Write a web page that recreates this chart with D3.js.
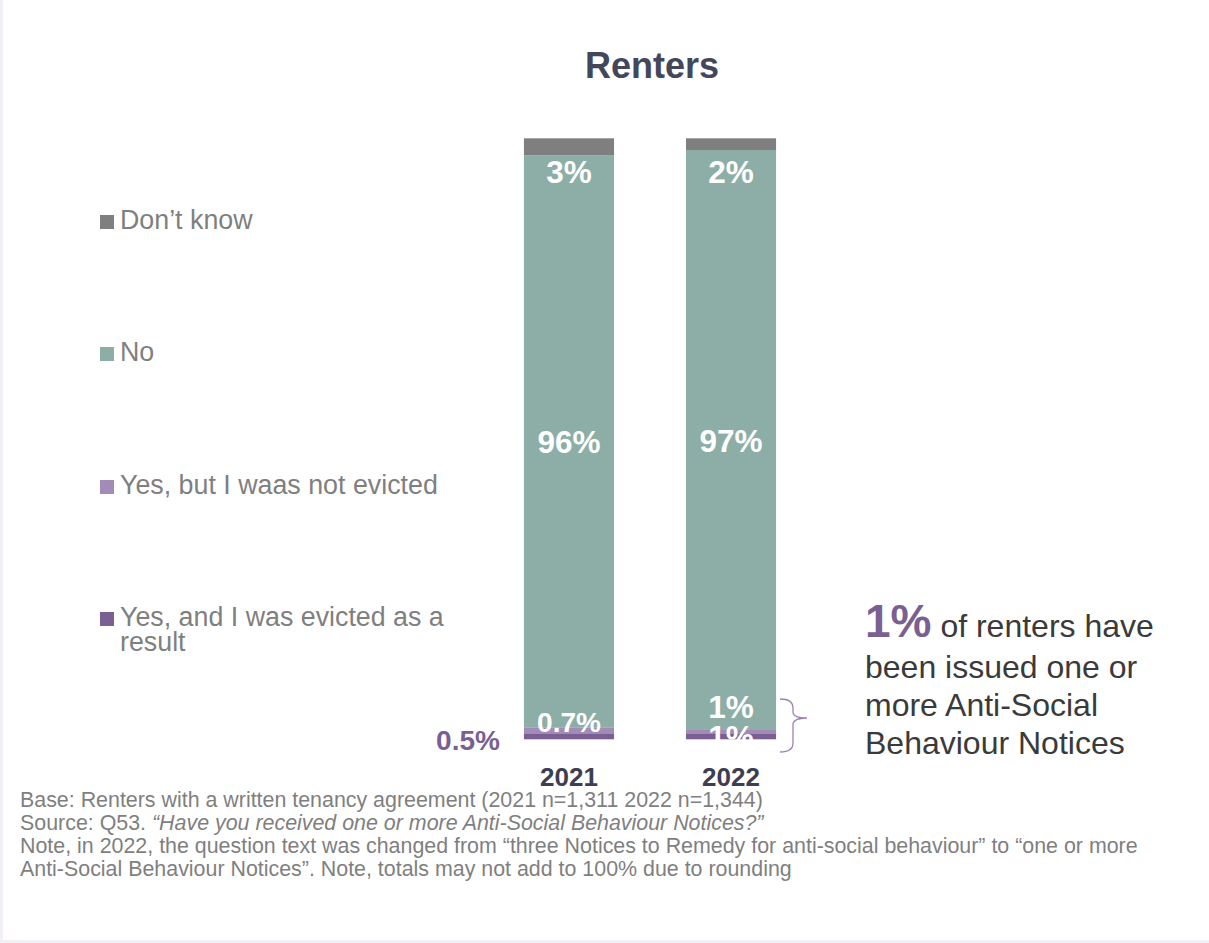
<!DOCTYPE html>
<html>
<head>
<meta charset="utf-8">
<script src="https://cdn.jsdelivr.net/npm/d3@7"></script>
<style>
html,body{margin:0;padding:0;background:#fff;}
svg{display:block;font-family:"Liberation Sans",Arial,sans-serif;}
</style>
</head>
<body>
<script>
// ---- data ----
const years = ["2021", "2022"];
const seriesKeys = ["evicted", "notEvicted", "no", "dontKnow"];
const seriesNames = ["Yes, and I was evicted as a result", "Yes, but I waas not evicted", "No", "Don\u2019t know"];
const evicted = [1.0, 1.0];
const notEvicted = [1.0, 0.55];
const no = [95.2, 96.5];
const dontKnow = [2.8, 1.95];
const evictedLabels = ["0.5%", "1%"];
const notEvictedLabels = ["0.7%", "1%"];
const noLabels = ["96%", "97%"];
const dontKnowLabels = ["3%", "2%"];
const colors = ["#7a5f93", "#a38bb8", "#8daea6", "#7f7f7f"];

const W = 1209, H = 943;
const svg = d3.select("body").append("svg").attr("width", W).attr("height", H);

// faint frame strips
svg.append("rect").attr("x", 0).attr("y", 0).attr("width", 3).attr("height", H).attr("fill", "#f2f0f5");
svg.append("rect").attr("x", 0).attr("y", 940).attr("width", W).attr("height", 3).attr("fill", "#f2f0f5");

const rows = years.map((y, i) => ({
  year: y, evicted: evicted[i], notEvicted: notEvicted[i], no: no[i], dontKnow: dontKnow[i]
}));

const x = d3.scaleBand().domain(years).range([452, 848]).paddingInner(0.444).paddingOuter(0.444);
const y = d3.scaleLinear().domain([0, 100]).range([739.3, 138.3]);
const stack = d3.stack().keys(seriesKeys)(rows);

// title
svg.append("text").attr("x", 652).attr("y", 78).attr("text-anchor", "middle")
  .attr("font-size", 36).attr("font-weight", "bold").attr("fill", "#44475a").text("Renters");

// bars
stack.forEach((s, si) => {
  svg.append("g").selectAll("rect").data(s).join("rect")
    .attr("x", d => x(d.data.year))
    .attr("width", x.bandwidth())
    .attr("y", d => y(d[1]))
    .attr("height", d => y(d[0]) - y(d[1]))
    .attr("fill", colors[si]);
});

// data labels
const lab = svg.append("g").attr("font-weight", "bold").attr("font-size", 31.5).attr("text-anchor", "middle");
years.forEach((yr, i) => {
  const cx = x(yr) + x.bandwidth() / 2;
  const sNo = stack[2][i], sDk = stack[3][i];
  const bottom = y(0);
  lab.append("text").attr("x", cx).attr("y", y(sDk[1]) + 45).attr("fill", "#fff").text(dontKnowLabels[i]);
  lab.append("text").attr("x", cx).attr("y", (y(sNo[0]) + y(sNo[1])) / 2 + 12).attr("fill", "#fff").text(noLabels[i]);
  if (i === 0) {
    lab.append("text").attr("x", x(yr) - 24).attr("y", bottom + 11).attr("text-anchor", "end")
      .attr("font-size", 28).attr("fill", colors[0]).text(evictedLabels[i]);
    lab.append("text").attr("x", cx).attr("y", bottom - 7).attr("font-size", 28).attr("fill", "#fff").text(notEvictedLabels[i]);
  } else {
    lab.append("text").attr("x", cx).attr("y", bottom + 9).attr("fill", "#fff").text(evictedLabels[i]);
    lab.append("text").attr("x", cx).attr("y", bottom - 21.5).attr("fill", "#fff").text(notEvictedLabels[i]);
  }
});

// x axis labels
const xAxis = d3.axisBottom(x).tickSize(0).tickPadding(0);
const xg = svg.append("g").attr("transform", "translate(0,764)").call(xAxis);
xg.select(".domain").remove();
xg.selectAll("text").attr("font-family", "Liberation Sans, Arial, sans-serif")
  .attr("font-size", 26).attr("font-weight", "bold").attr("fill", "#3d3e50").attr("dy", "0.85em");

// legend
const legendOrder = [3, 2, 1, 0];
const legendBase = [229, 361, 494, 626];
const leg = svg.append("g");
legendOrder.forEach((si, r) => {
  const by = legendBase[r];
  leg.append("rect").attr("x", 100).attr("y", by - 14).attr("width", 14).attr("height", 14).attr("fill", colors[si]);
  const t = leg.append("text").attr("x", 120).attr("y", by).attr("font-size", 26.8).attr("fill", "#7f7f7f");
  if (si === 0) {
    t.append("tspan").attr("x", 120).text("Yes, and I was evicted as a");
    t.append("tspan").attr("x", 120).attr("dy", 25).text("result");
  } else {
    t.text(seriesNames[si]);
  }
});

// brace
svg.append("path")
  .attr("d", "M780,699 Q793,699 793,708 L793,712 Q793,718 807,718 Q793,718 793,725 L793,743 Q793,752 780,752")
  .attr("fill", "none").attr("stroke", "#9b84b3").attr("stroke-width", 1.3);

// annotation
const ann = svg.append("g").attr("font-size", 32).attr("fill", "#3a3a3a");
const a1 = ann.append("text").attr("x", 865).attr("y", 637);
a1.append("tspan").attr("font-size", 46).attr("font-weight", "bold").attr("fill", "#7a5f93").text("1%");
a1.append("tspan").text(" of renters have");
ann.append("text").attr("x", 865).attr("y", 678).text("been issued one or");
ann.append("text").attr("x", 865).attr("y", 716).text("more Anti-Social");
ann.append("text").attr("x", 865).attr("y", 754).text("Behaviour Notices");

// footer
const ft = svg.append("g").attr("font-size", 21.4).attr("fill", "#7f7f7f");
ft.append("text").attr("x", 20).attr("y", 807).text("Base: Renters with a written tenancy agreement (2021 n=1,311 2022 n=1,344)");
const s2 = ft.append("text").attr("x", 20).attr("y", 830);
s2.append("tspan").text("Source: Q53. ");
s2.append("tspan").attr("font-style", "italic").text("\u201cHave you received one or more Anti-Social Behaviour Notices?\u201d");
ft.append("text").attr("x", 20).attr("y", 853).text("Note, in 2022, the question text was changed from \u201cthree Notices to Remedy for anti-social behaviour\u201d to \u201cone or more");
ft.append("text").attr("x", 20).attr("y", 876).text("Anti-Social Behaviour Notices\u201d. Note, totals may not add to 100% due to rounding");
</script>
</body>
</html>
